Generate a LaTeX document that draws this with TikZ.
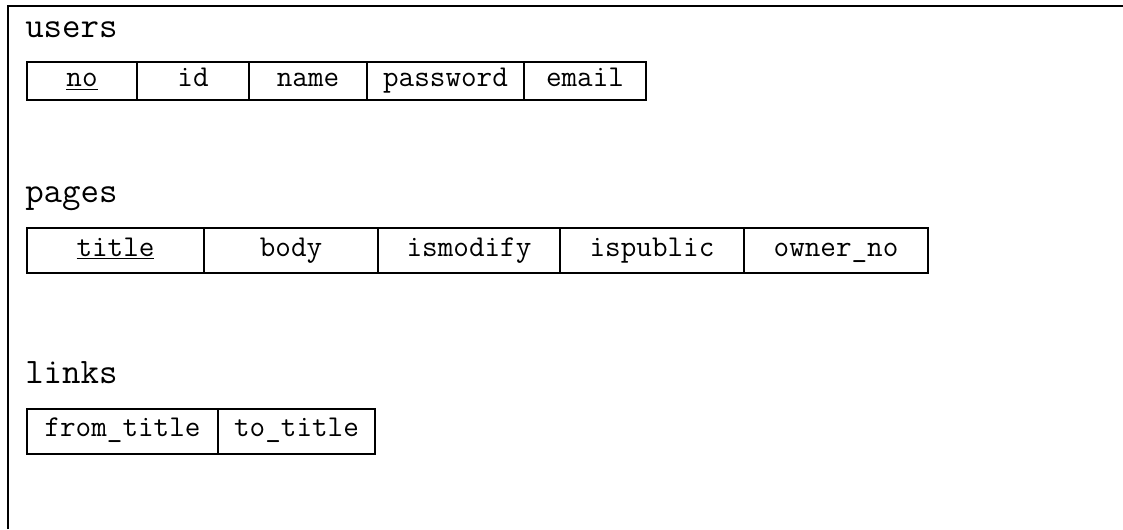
\documentclass[tikz,border=0pt]{standalone}
\usepackage{fontspec}
\usepackage{tikz}
\usetikzlibrary{positioning}
\tikzstyle{cell} = [draw, line width=1.5pt, inner sep=0pt, outer sep=0pt, font=\ttfamily\fontsize{22.7}{26}\selectfont, text height=2ex, text depth=0ex]
\tikzstyle{userrow} = [cell, minimum height=28.5pt]
\tikzstyle{pagerow} = [cell, minimum height=33.75pt]
\tikzstyle{tablename} = [inner sep=0pt, anchor=base west, font=\ttfamily\fontsize{26.9}{30}\selectfont]
\tikzstyle{frame} = [line width=1.5pt]

\begin{document}
\begin{tikzpicture}[x=0.75pt, y=-0.75pt]
\useasboundingbox (0,0) rectangle (1123,529);
% Frame (left and top only)
\draw[frame] (8,529) -- (8,6) -- (1123,6);

% users
\node[tablename] (usersName) at (25,37) {users};
\node[userrow, minimum width=82.5pt] (uNo) at (82,81) {\underline{no}};
\node[userrow, minimum width=84pt, right=0pt of uNo] (uId) {id};
\node[userrow, minimum width=88.5pt, right=0pt of uId] (uName) {name};
\node[userrow, minimum width=117.75pt, right=0pt of uName] (uPassword) {password};
\node[userrow, minimum width=91.5pt, right=0pt of uPassword] (uEmail) {email};

% pages
\node[tablename] (pagesName) at (25,202) {pages};
\node[pagerow, minimum width=132.75pt] (pTitle) at (115.5,250.5) {\underline{title}};
\node[pagerow, minimum width=130.5pt, right=0pt of pTitle] (pBody) {body};
\node[pagerow, minimum width=136.5pt, right=0pt of pBody] (pIsmodify) {ismodify};
\node[pagerow, minimum width=138pt, right=0pt of pIsmodify] (pIspublic) {ispublic};
\node[pagerow, minimum width=138pt, right=0pt of pIspublic] (pOwner) {owner\_no};

% links
\node[tablename] (linksName) at (25,383) {links};
\node[pagerow, minimum width=143.25pt] (lFrom) at (122.5,431) {from\_title};
\node[pagerow, minimum width=117.75pt, right=0pt of lFrom] (lTo) {to\_title};
\end{tikzpicture}
\end{document}
